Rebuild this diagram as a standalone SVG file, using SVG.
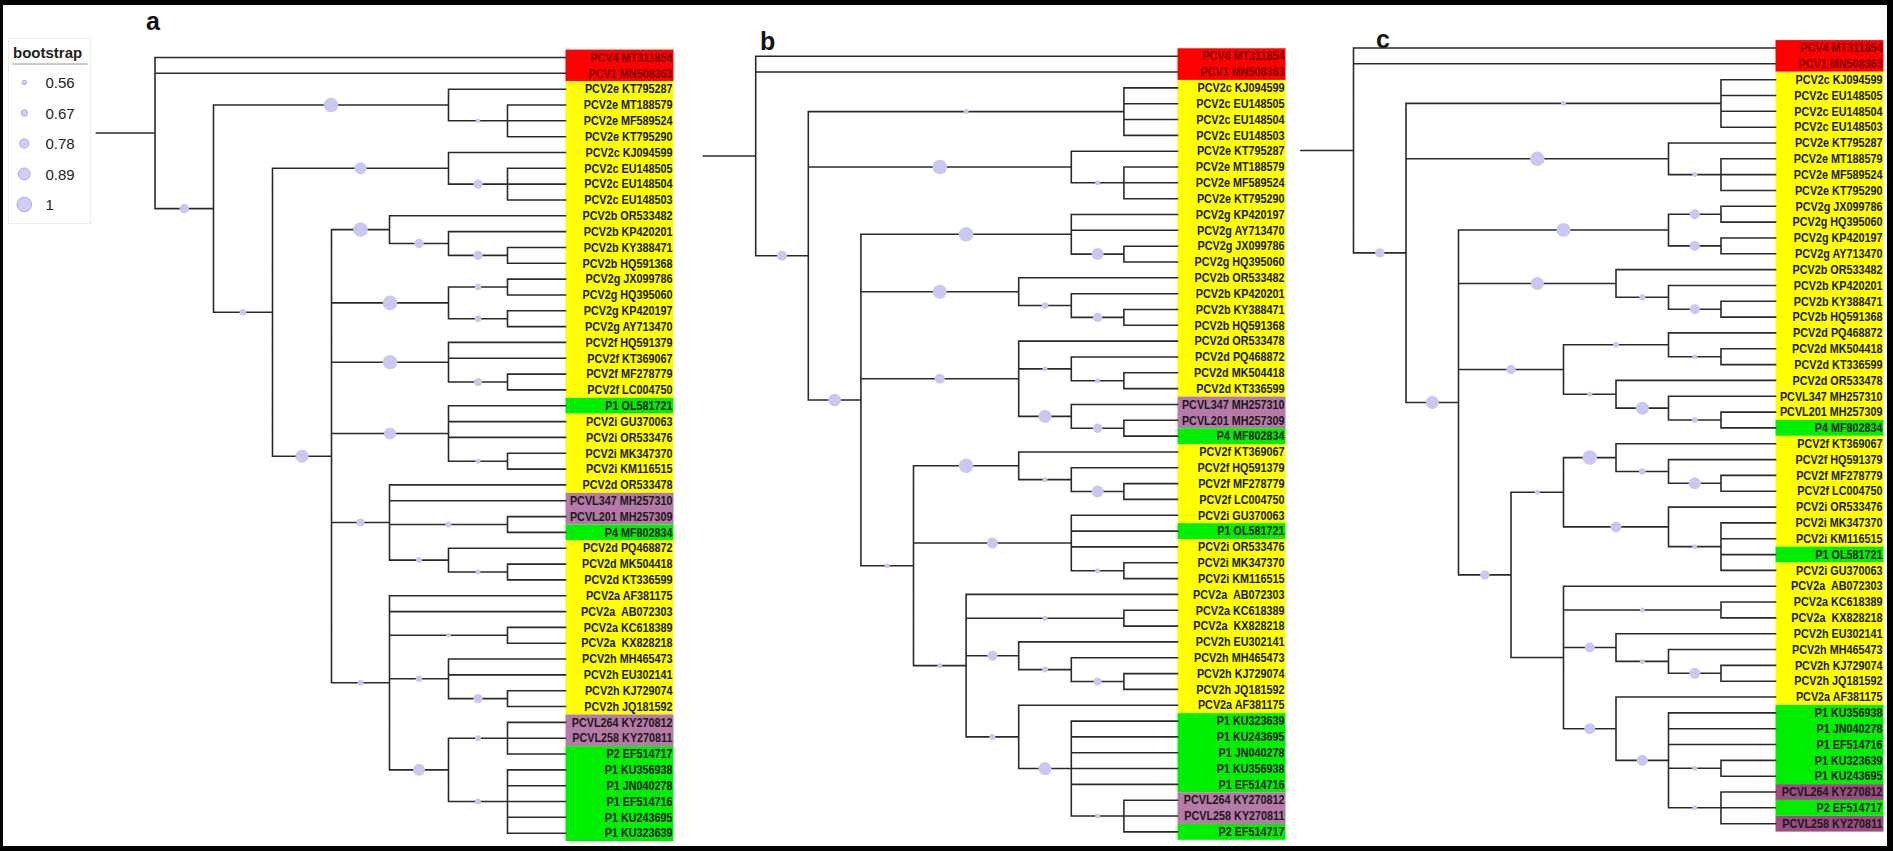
<svg xmlns="http://www.w3.org/2000/svg" width="1893" height="851" viewBox="0 0 1893 851">
<style>
.br{fill:none;stroke:#2a2a2a;stroke-width:1.6;stroke-linecap:square}
.bs circle{fill:#c8c8f2}
.lab text{font-family:"Liberation Sans",Arial,sans-serif;font-size:12px;font-weight:bold;text-anchor:end;fill:#1a1a1a;white-space:pre}
.lab text.rt{fill:#7a0000}
.pl{font-family:"Liberation Sans",Arial,sans-serif;font-size:25px;font-weight:bold;fill:#111}
.lg text{font-family:"Liberation Sans",Arial,sans-serif;font-size:15px;fill:#222}
.lg circle{fill:#cfcff5;stroke:#a3a3d0;stroke-width:0.8}
</style>
<rect x="0" y="0" width="1893" height="851" fill="#000"/>
<rect x="3" y="5" width="1884" height="841" fill="#fff"/>

<g id="legend" class="lg">
<rect x="8.5" y="38.5" width="82" height="185" fill="#fff" stroke="#ececec"/>
<text x="13" y="57.5" font-weight="bold" fill="#111">bootstrap</text>
<line x1="12.5" y1="64" x2="87.5" y2="64" stroke="#999" stroke-width="1.2"/>
<circle cx="24.3" cy="82.5" r="2.3"/><text x="45.5" y="88">0.56</text>
<circle cx="24.3" cy="113" r="3.3"/><text x="45.5" y="118.5">0.67</text>
<circle cx="24.3" cy="143.5" r="4.7"/><text x="45.5" y="149">0.78</text>
<circle cx="24.3" cy="174" r="6"/><text x="45.5" y="179.5">0.89</text>
<circle cx="24.3" cy="204.5" r="7.3"/><text x="45.5" y="210">1</text>
</g>

<text class="pl" x="146" y="30">a</text>
<text class="pl" x="760" y="50">b</text>
<text class="pl" x="1376" y="48">c</text>

<g id="boxes-a">
<rect x="565.5" y="49.6" width="108" height="31.7" fill="#ff0000"/>
<rect x="565.5" y="81.2" width="108" height="316.7" fill="#ffff00"/>
<rect x="565.5" y="397.85" width="108" height="15.82" fill="#00ee00"/>
<rect x="565.5" y="413.67" width="108" height="79.16" fill="#ffff00"/>
<rect x="565.5" y="492.83" width="108" height="31.66" fill="#b67aa8"/>
<rect x="565.5" y="524.49" width="108" height="15.83" fill="#00ee00"/>
<rect x="565.5" y="540.32" width="108" height="174.13" fill="#ffff00"/>
<rect x="565.5" y="714.45" width="108" height="31.66" fill="#b67aa8"/>
<rect x="565.5" y="746.11" width="108" height="94.98" fill="#00ee00"/>
</g>
<g id="boxes-b">
<rect x="1177.5" y="48.29" width="108" height="31.66" fill="#ff0000"/>
<rect x="1177.5" y="79.95" width="108" height="316.6" fill="#ffff00"/>
<rect x="1177.5" y="396.55" width="108" height="31.66" fill="#b67aa8"/>
<rect x="1177.5" y="428.21" width="108" height="15.83" fill="#00ee00"/>
<rect x="1177.5" y="444.04" width="108" height="79.15" fill="#ffff00"/>
<rect x="1177.5" y="523.19" width="108" height="15.83" fill="#00ee00"/>
<rect x="1177.5" y="539.02" width="108" height="174.13" fill="#ffff00"/>
<rect x="1177.5" y="713.15" width="108" height="79.15" fill="#00ee00"/>
<rect x="1177.5" y="792.3" width="108" height="31.66" fill="#b67aa8"/>
<rect x="1177.5" y="823.96" width="108" height="15.83" fill="#00ee00"/>
</g>
<g id="boxes-c">
<rect x="1775.5" y="40.09" width="108" height="31.66" fill="#ff0000"/>
<rect x="1775.5" y="71.75" width="108" height="348.25" fill="#ffff00"/>
<rect x="1775.5" y="420" width="108" height="15.84" fill="#00ee00"/>
<rect x="1775.5" y="435.84" width="108" height="110.81" fill="#ffff00"/>
<rect x="1775.5" y="546.65" width="108" height="15.83" fill="#00ee00"/>
<rect x="1775.5" y="562.48" width="108" height="142.47" fill="#ffff00"/>
<rect x="1775.5" y="704.95" width="108" height="79.15" fill="#00ee00"/>
<rect x="1775.5" y="784.1" width="108" height="15.83" fill="#9b4d82"/>
<rect x="1775.5" y="799.93" width="108" height="15.83" fill="#00ee00"/>
<rect x="1775.5" y="815.76" width="108" height="15.83" fill="#9b4d82"/>
</g>

<g id="connectors">
<path class="br" d="M96.5 133.05H155M155 57.5V208.6M155 57.5H565.5M155 73.3H565.5M155 208.6H213.5M213.5 105V312.25M213.5 105H448.5M448.5 89.2V120.8M448.5 89.2H565.5M448.5 120.8H507.5M507.5 105V136.7M507.5 105H565.5M507.5 120.8H565.5M507.5 136.7H565.5M213.5 312.25H272.5M272.5 168.3V456.2M272.5 168.3H448.5M448.5 152.5V184.1M448.5 152.5H565.5M448.5 184.1H507.5M507.5 168.3V200M507.5 168.3H565.5M507.5 184.1H565.5M507.5 200H565.5M272.5 456.2H331.5M331.5 229.65V682.8M331.5 229.65H389.5M389.5 215.8V243.5M389.5 215.8H565.5M389.5 243.5H448.5M448.5 231.6V255.4M448.5 231.6H565.5M448.5 255.4H507.5M507.5 247.5V263.3M507.5 247.5H565.5M507.5 263.3H565.5M331.5 302.85H448.5M448.5 287V318.7M448.5 287H507.5M507.5 279.1V295M507.5 279.1H565.5M507.5 295H565.5M448.5 318.7H507.5M507.5 310.8V326.6M507.5 310.8H565.5M507.5 326.6H565.5M331.5 362.2H448.5M448.5 342.4V382M448.5 342.4H565.5M448.5 358.3H565.5M448.5 382H507.5M507.5 374.1V389.9M507.5 374.1H565.5M507.5 389.9H565.5M331.5 433.5H448.5M448.5 405.8V461.2M448.5 405.8H565.5M448.5 421.6H565.5M448.5 437.4H565.5M448.5 461.2H507.5M507.5 453.3V469.1M507.5 453.3H565.5M507.5 469.1H565.5M331.5 522.5H389.5M389.5 484.9V560.1M389.5 484.9H565.5M389.5 500.7H565.5M389.5 524.5H507.5M507.5 516.6V532.4M507.5 516.6H565.5M507.5 532.4H565.5M389.5 560.1H448.5M448.5 548.2V572M448.5 548.2H565.5M448.5 572H507.5M507.5 564.1V579.9M507.5 564.1H565.5M507.5 579.9H565.5M331.5 682.8H389.5M389.5 595.7V769.85M389.5 595.7H565.5M389.5 611.6H565.5M389.5 635.3H507.5M507.5 627.4V643.2M507.5 627.4H565.5M507.5 643.2H565.5M389.5 678.8H448.5M448.5 659V698.6M448.5 659H565.5M448.5 674.9H565.5M448.5 698.6H507.5M507.5 690.7V706.5M507.5 690.7H565.5M507.5 706.5H565.5M389.5 769.85H448.5M448.5 738.2V801.5M448.5 738.2H507.5M507.5 722.4V754M507.5 722.4H565.5M507.5 738.2H565.5M507.5 754H565.5M448.5 801.5H507.5M507.5 769.85V833.2M507.5 769.85H565.5M507.5 785.7H565.5M507.5 801.5H565.5M507.5 817.3H565.5M507.5 833.2H565.5"/>
<path class="br" d="M703.5 156H755.7M755.7 56.2V255.8M755.7 56.2H1177.5M755.7 72H1177.5M755.7 255.8H808.3M808.3 111.6V400M808.3 111.6H1123.9M1123.9 87.9V135.4M1123.9 87.9H1177.5M1123.9 103.7H1177.5M1123.9 119.5H1177.5M1123.9 135.4H1177.5M808.3 167H1071.3M1071.3 151.2V182.8M1071.3 151.2H1177.5M1071.3 182.8H1123.9M1123.9 167V198.7M1123.9 167H1177.5M1123.9 182.8H1177.5M1123.9 198.7H1177.5M808.3 400H860.9M860.9 234.3V565.7M860.9 234.3H1071.3M1071.3 214.5V254.1M1071.3 214.5H1177.5M1071.3 230.3H1177.5M1071.3 254.1H1123.9M1123.9 246.2V262M1123.9 246.2H1177.5M1123.9 262H1177.5M860.9 291.7H1018.7M1018.7 277.8V305.5M1018.7 277.8H1177.5M1018.7 305.5H1071.3M1071.3 293.7V317.4M1071.3 293.7H1177.5M1071.3 317.4H1123.9M1123.9 309.5V325.3M1123.9 309.5H1177.5M1123.9 325.3H1177.5M860.9 378.7H1018.7M1018.7 341.1V416.35M1018.7 341.1H1177.5M1018.7 368.85H1071.3M1071.3 357V380.7M1071.3 357H1177.5M1071.3 380.7H1123.9M1123.9 372.8V388.6M1123.9 372.8H1177.5M1123.9 388.6H1177.5M1018.7 416.35H1071.3M1071.3 404.5V428.2M1071.3 404.5H1177.5M1071.3 428.2H1123.9M1123.9 420.3V436.1M1123.9 420.3H1177.5M1123.9 436.1H1177.5M860.9 565.7H913.5M913.5 465.8V665.65M913.5 465.8H1018.7M1018.7 452V479.65M1018.7 452H1177.5M1018.7 479.65H1071.3M1071.3 467.8V491.5M1071.3 467.8H1177.5M1071.3 491.5H1123.9M1123.9 483.6V499.4M1123.9 483.6H1177.5M1123.9 499.4H1177.5M913.5 543H1071.3M1071.3 515.3V570.7M1071.3 515.3H1177.5M1071.3 531.1H1177.5M1071.3 546.9H1177.5M1071.3 570.7H1123.9M1123.9 562.8V578.6M1123.9 562.8H1177.5M1123.9 578.6H1177.5M913.5 665.65H966.1M966.1 594.4V736.9M966.1 594.4H1177.5M966.1 618.2H1123.9M1123.9 610.25V626.1M1123.9 610.25H1177.5M1123.9 626.1H1177.5M966.1 655.75H1018.7M1018.7 641.9V669.6M1018.7 641.9H1177.5M1018.7 669.6H1071.3M1071.3 657.7V681.5M1071.3 657.7H1177.5M1071.3 681.5H1123.9M1123.9 673.6V689.4M1123.9 673.6H1177.5M1123.9 689.4H1177.5M966.1 736.9H1018.7M1018.7 705.2V768.55M1018.7 705.2H1177.5M1018.7 768.55H1071.3M1071.3 721.1V816M1071.3 721.1H1177.5M1071.3 736.9H1177.5M1071.3 752.7H1177.5M1071.3 768.55H1177.5M1071.3 784.4H1177.5M1071.3 816H1123.9M1123.9 800.2V831.9M1123.9 800.2H1177.5M1123.9 816H1177.5M1123.9 831.9H1177.5"/>
<path class="br" d="M1301 150.45H1353.5M1353.5 48V252.9M1353.5 48H1775.5M1353.5 63.8H1775.5M1353.5 252.9H1406M1406 103.4V402.45M1406 103.4H1721M1721 79.7V127.2M1721 79.7H1775.5M1721 95.5H1775.5M1721 111.3H1775.5M1721 127.2H1775.5M1406 158.8H1668.5M1668.5 143V174.6M1668.5 143H1775.5M1668.5 174.6H1721M1721 158.8V190.5M1721 158.8H1775.5M1721 174.6H1775.5M1721 190.5H1775.5M1406 402.45H1458.5M1458.5 230.05V574.85M1458.5 230.05H1668.5M1668.5 214.2V245.9M1668.5 214.2H1721M1721 206.3V222.1M1721 206.3H1775.5M1721 222.1H1775.5M1668.5 245.9H1721M1721 238V253.8M1721 238H1775.5M1721 253.8H1775.5M1458.5 283.45H1616M1616 269.6V297.3M1616 269.6H1775.5M1616 297.3H1668.5M1668.5 285.45V309.2M1668.5 285.45H1775.5M1668.5 309.2H1721M1721 301.3V317.1M1721 301.3H1775.5M1721 317.1H1775.5M1458.5 369.55H1563.5M1563.5 344.8V394.3M1563.5 344.8H1668.5M1668.5 332.9V356.7M1668.5 332.9H1775.5M1668.5 356.7H1721M1721 348.8V364.6M1721 348.8H1775.5M1721 364.6H1775.5M1563.5 394.3H1616M1616 380.4V408.15M1616 380.4H1775.5M1616 408.15H1668.5M1668.5 396.3V420M1668.5 396.3H1775.5M1668.5 420H1721M1721 412.1V427.9M1721 412.1H1775.5M1721 427.9H1775.5M1458.5 574.85H1511M1511 492.25V657.45M1511 492.25H1563.5M1563.5 457.6V526.9M1563.5 457.6H1616M1616 443.75V471.45M1616 443.75H1775.5M1616 471.45H1668.5M1668.5 459.6V483.3M1668.5 459.6H1775.5M1668.5 483.3H1721M1721 475.4V491.2M1721 475.4H1775.5M1721 491.2H1775.5M1563.5 526.9H1668.5M1668.5 507.1V546.65M1668.5 507.1H1775.5M1668.5 546.65H1721M1721 522.9V570.4M1721 522.9H1775.5M1721 538.7H1775.5M1721 554.6H1775.5M1721 570.4H1775.5M1511 657.45H1563.5M1563.5 586.2V728.7M1563.5 586.2H1775.5M1563.5 610H1721M1721 602.05V617.9M1721 602.05H1775.5M1721 617.9H1775.5M1563.5 647.55H1616M1616 633.7V661.4M1616 633.7H1775.5M1616 661.4H1668.5M1668.5 649.5V673.3M1668.5 649.5H1775.5M1668.5 673.3H1721M1721 665.4V681.2M1721 665.4H1775.5M1721 681.2H1775.5M1563.5 728.7H1616M1616 697V760.35M1616 697H1775.5M1616 760.35H1668.5M1668.5 712.9V807.8M1668.5 712.9H1775.5M1668.5 728.7H1775.5M1668.5 744.5H1775.5M1668.5 768.3H1721M1721 760.35V776.2M1721 760.35H1775.5M1721 776.2H1775.5M1668.5 807.8H1721M1721 792V823.7M1721 792H1775.5M1721 807.8H1775.5M1721 823.7H1775.5"/>
</g>

<g id="bootstrap-a" class="bs">
<circle cx="184.3" cy="208.6" r="4.7"/><circle cx="331" cy="105" r="7.3"/><circle cx="478" cy="120.8" r="2.3"/><circle cx="243" cy="312.25" r="3.3"/><circle cx="360.5" cy="168.3" r="6"/><circle cx="478" cy="184.1" r="4.7"/><circle cx="302" cy="456.2" r="6.5"/><circle cx="360.5" cy="229.65" r="7.3"/><circle cx="419" cy="243.5" r="4.7"/><circle cx="478" cy="255.4" r="4.7"/><circle cx="390" cy="302.85" r="7.3"/><circle cx="478" cy="287" r="3.3"/><circle cx="478" cy="318.7" r="3.3"/><circle cx="390" cy="362.2" r="7.3"/><circle cx="478" cy="382" r="4"/><circle cx="390" cy="433.5" r="6"/><circle cx="478" cy="461.2" r="2.5"/><circle cx="360.5" cy="522.5" r="4"/><circle cx="448.5" cy="524.5" r="3"/><circle cx="419" cy="560.1" r="3"/><circle cx="478" cy="572" r="2.5"/><circle cx="360.5" cy="682.8" r="3"/><circle cx="448.5" cy="635.3" r="2.3"/><circle cx="419" cy="678.8" r="3.3"/><circle cx="478" cy="698.6" r="4.7"/><circle cx="419" cy="769.85" r="6"/><circle cx="478" cy="738.2" r="3"/><circle cx="478" cy="801.5" r="3"/>
</g>
<g id="bootstrap-b" class="bs">
<circle cx="782" cy="255.8" r="5"/><circle cx="966.1" cy="111.6" r="2.5"/><circle cx="939.8" cy="167" r="7.3"/><circle cx="1097.6" cy="182.8" r="2.5"/><circle cx="834.6" cy="400" r="6.3"/><circle cx="966.1" cy="234.3" r="7.3"/><circle cx="1097.6" cy="254.1" r="6"/><circle cx="939.8" cy="291.7" r="7"/><circle cx="1045" cy="305.5" r="3.3"/><circle cx="1097.6" cy="317.4" r="4.7"/><circle cx="939.8" cy="378.7" r="5"/><circle cx="1045" cy="368.85" r="2.5"/><circle cx="1097.6" cy="380.7" r="2.5"/><circle cx="1045" cy="416.35" r="6.5"/><circle cx="1097.6" cy="428.2" r="4.7"/><circle cx="887.2" cy="565.7" r="2.5"/><circle cx="966.1" cy="465.8" r="7.3"/><circle cx="1045" cy="479.65" r="2.5"/><circle cx="1097.6" cy="491.5" r="6"/><circle cx="992.4" cy="543" r="5.5"/><circle cx="1097.6" cy="570.7" r="2.5"/><circle cx="939.8" cy="665.65" r="2.5"/><circle cx="1045" cy="618.2" r="2.5"/><circle cx="992.4" cy="655.75" r="5"/><circle cx="1045" cy="669.6" r="3"/><circle cx="1097.6" cy="681.5" r="4"/><circle cx="992.4" cy="736.9" r="3"/><circle cx="1045" cy="768.55" r="6.5"/><circle cx="1097.6" cy="816" r="2.5"/>
</g>
<g id="bootstrap-c" class="bs">
<circle cx="1379.8" cy="252.9" r="4.7"/><circle cx="1563.5" cy="103.4" r="2.5"/><circle cx="1537.3" cy="158.8" r="7.3"/><circle cx="1694.8" cy="174.6" r="2.5"/><circle cx="1432.3" cy="402.45" r="6.5"/><circle cx="1563.5" cy="230.05" r="7"/><circle cx="1694.8" cy="214.2" r="5"/><circle cx="1694.8" cy="245.9" r="5"/><circle cx="1537.3" cy="283.45" r="6.5"/><circle cx="1642.3" cy="297.3" r="3"/><circle cx="1694.8" cy="309.2" r="5"/><circle cx="1511" cy="369.55" r="4.7"/><circle cx="1616" cy="344.8" r="3"/><circle cx="1694.8" cy="356.7" r="2.5"/><circle cx="1589.8" cy="394.3" r="2.5"/><circle cx="1642.3" cy="408.15" r="6.5"/><circle cx="1694.8" cy="420" r="3"/><circle cx="1484.8" cy="574.85" r="4.7"/><circle cx="1537.3" cy="492.25" r="2.5"/><circle cx="1589.8" cy="457.6" r="7.3"/><circle cx="1642.3" cy="471.45" r="3.3"/><circle cx="1694.8" cy="483.3" r="6"/><circle cx="1616" cy="526.9" r="5.5"/><circle cx="1694.8" cy="546.65" r="2.5"/><circle cx="1642.3" cy="610" r="2.5"/><circle cx="1589.8" cy="647.55" r="5"/><circle cx="1642.3" cy="661.4" r="2.5"/><circle cx="1694.8" cy="673.3" r="5.5"/><circle cx="1589.8" cy="728.7" r="5.5"/><circle cx="1642.3" cy="760.35" r="5.5"/><circle cx="1694.8" cy="768.3" r="2.5"/><circle cx="1694.8" cy="807.8" r="2.5"/>
</g>

<g id="labels-a" class="lab" transform="translate(672.5 0) scale(0.9 1)">
<g id="a-n1"><text class="rt" y="61.8">PCV4 MT311854</text></g>
<g id="a-n2"><text class="rt" y="77.6">PCV1 MN508363</text></g>
<g id="a-n3"><text y="93.5">PCV2e KT795287</text></g>
<g id="a-n4"><text y="109.3">PCV2e MT188579</text></g>
<g id="a-n5"><text y="125.1">PCV2e MF589524</text></g>
<g id="a-n6"><text y="141">PCV2e KT795290</text></g>
<g id="a-n7"><text y="156.8">PCV2c KJ094599</text></g>
<g id="a-n8"><text y="172.6">PCV2c EU148505</text></g>
<g id="a-n9"><text y="188.4">PCV2c EU148504</text></g>
<g id="a-n10"><text y="204.3">PCV2c EU148503</text></g>
<g id="a-n11"><text y="220.1">PCV2b OR533482</text></g>
<g id="a-n12"><text y="235.9">PCV2b KP420201</text></g>
<g id="a-n13"><text y="251.8">PCV2b KY388471</text></g>
<g id="a-n14"><text y="267.6">PCV2b HQ591368</text></g>
<g id="a-n15"><text y="283.4">PCV2g JX099786</text></g>
<g id="a-n16"><text y="299.3">PCV2g HQ395060</text></g>
<g id="a-n17"><text y="315.1">PCV2g KP420197</text></g>
<g id="a-n18"><text y="330.9">PCV2g AY713470</text></g>
<g id="a-n19"><text y="346.7">PCV2f HQ591379</text></g>
<g id="a-n20"><text y="362.6">PCV2f KT369067</text></g>
<g id="a-n21"><text y="378.4">PCV2f MF278779</text></g>
<g id="a-n22"><text y="394.2">PCV2f LC004750</text></g>
<g id="a-n23"><text y="410.1">P1 OL581721</text></g>
<g id="a-n24"><text y="425.9">PCV2i GU370063</text></g>
<g id="a-n25"><text y="441.7">PCV2i OR533476</text></g>
<g id="a-n26"><text y="457.6">PCV2i MK347370</text></g>
<g id="a-n27"><text y="473.4">PCV2i KM116515</text></g>
<g id="a-n28"><text y="489.2">PCV2d OR533478</text></g>
<g id="a-n29"><text y="505">PCVL347 MH257310</text></g>
<g id="a-n30"><text y="520.9">PCVL201 MH257309</text></g>
<g id="a-n31"><text y="536.7">P4 MF802834</text></g>
<g id="a-n32"><text y="552.5">PCV2d PQ468872</text></g>
<g id="a-n33"><text y="568.4">PCV2d MK504418</text></g>
<g id="a-n34"><text y="584.2">PCV2d KT336599</text></g>
<g id="a-n35"><text y="600">PCV2a AF381175</text></g>
<g id="a-n36"><text y="615.9" xml:space="preserve">PCV2a  AB072303</text></g>
<g id="a-n37"><text y="631.7">PCV2a KC618389</text></g>
<g id="a-n38"><text y="647.5" xml:space="preserve">PCV2a  KX828218</text></g>
<g id="a-n39"><text y="663.3">PCV2h MH465473</text></g>
<g id="a-n40"><text y="679.2">PCV2h EU302141</text></g>
<g id="a-n41"><text y="695">PCV2h KJ729074</text></g>
<g id="a-n42"><text y="710.8">PCV2h JQ181592</text></g>
<g id="a-n43"><text y="726.7">PCVL264 KY270812</text></g>
<g id="a-n44"><text y="742.5">PCVL258 KY270811</text></g>
<g id="a-n45"><text y="758.3">P2 EF514717</text></g>
<g id="a-n46"><text y="774.2">P1 KU356938</text></g>
<g id="a-n47"><text y="790">P1 JN040278</text></g>
<g id="a-n48"><text y="805.8">P1 EF514716</text></g>
<g id="a-n49"><text y="821.6">P1 KU243695</text></g>
<g id="a-n50"><text y="837.5">P1 KU323639</text></g>
</g>

<g id="labels-b" class="lab" transform="translate(1284.5 0) scale(0.9 1)">
<g id="b-n1"><text class="rt" y="60.5">PCV4 MT311854</text></g>
<g id="b-n2"><text class="rt" y="76.3">PCV1 MN508363</text></g>
<g id="b-n3"><text y="92.2">PCV2c KJ094599</text></g>
<g id="b-n4"><text y="108">PCV2c EU148505</text></g>
<g id="b-n5"><text y="123.8">PCV2c EU148504</text></g>
<g id="b-n6"><text y="139.7">PCV2c EU148503</text></g>
<g id="b-n7"><text y="155.5">PCV2e KT795287</text></g>
<g id="b-n8"><text y="171.3">PCV2e MT188579</text></g>
<g id="b-n9"><text y="187.1">PCV2e MF589524</text></g>
<g id="b-n10"><text y="203">PCV2e KT795290</text></g>
<g id="b-n11"><text y="218.8">PCV2g KP420197</text></g>
<g id="b-n12"><text y="234.6">PCV2g AY713470</text></g>
<g id="b-n13"><text y="250.5">PCV2g JX099786</text></g>
<g id="b-n14"><text y="266.3">PCV2g HQ395060</text></g>
<g id="b-n15"><text y="282.1">PCV2b OR533482</text></g>
<g id="b-n16"><text y="298">PCV2b KP420201</text></g>
<g id="b-n17"><text y="313.8">PCV2b KY388471</text></g>
<g id="b-n18"><text y="329.6">PCV2b HQ591368</text></g>
<g id="b-n19"><text y="345.4">PCV2d OR533478</text></g>
<g id="b-n20"><text y="361.3">PCV2d PQ468872</text></g>
<g id="b-n21"><text y="377.1">PCV2d MK504418</text></g>
<g id="b-n22"><text y="392.9">PCV2d KT336599</text></g>
<g id="b-n23"><text y="408.8">PCVL347 MH257310</text></g>
<g id="b-n24"><text y="424.6">PCVL201 MH257309</text></g>
<g id="b-n25"><text y="440.4">P4 MF802834</text></g>
<g id="b-n26"><text y="456.3">PCV2f KT369067</text></g>
<g id="b-n27"><text y="472.1">PCV2f HQ591379</text></g>
<g id="b-n28"><text y="487.9">PCV2f MF278779</text></g>
<g id="b-n29"><text y="503.7">PCV2f LC004750</text></g>
<g id="b-n30"><text y="519.6">PCV2i GU370063</text></g>
<g id="b-n31"><text y="535.4">P1 OL581721</text></g>
<g id="b-n32"><text y="551.2">PCV2i OR533476</text></g>
<g id="b-n33"><text y="567.1">PCV2i MK347370</text></g>
<g id="b-n34"><text y="582.9">PCV2i KM116515</text></g>
<g id="b-n35"><text y="598.7" xml:space="preserve">PCV2a  AB072303</text></g>
<g id="b-n36"><text y="614.6">PCV2a KC618389</text></g>
<g id="b-n37"><text y="630.4" xml:space="preserve">PCV2a  KX828218</text></g>
<g id="b-n38"><text y="646.2">PCV2h EU302141</text></g>
<g id="b-n39"><text y="662">PCV2h MH465473</text></g>
<g id="b-n40"><text y="677.9">PCV2h KJ729074</text></g>
<g id="b-n41"><text y="693.7">PCV2h JQ181592</text></g>
<g id="b-n42"><text y="709.5">PCV2a AF381175</text></g>
<g id="b-n43"><text y="725.4">P1 KU323639</text></g>
<g id="b-n44"><text y="741.2">P1 KU243695</text></g>
<g id="b-n45"><text y="757">P1 JN040278</text></g>
<g id="b-n46"><text y="772.9">P1 KU356938</text></g>
<g id="b-n47"><text y="788.7">P1 EF514716</text></g>
<g id="b-n48"><text y="804.5">PCVL264 KY270812</text></g>
<g id="b-n49"><text y="820.3">PCVL258 KY270811</text></g>
<g id="b-n50"><text y="836.2">P2 EF514717</text></g>
</g>

<g id="labels-c" class="lab" transform="translate(1882.5 0) scale(0.9 1)">
<g id="c-n1"><text class="rt" y="52.3">PCV4 MT311854</text></g>
<g id="c-n2"><text class="rt" y="68.1">PCV1 MN508363</text></g>
<g id="c-n3"><text y="84">PCV2c KJ094599</text></g>
<g id="c-n4"><text y="99.8">PCV2c EU148505</text></g>
<g id="c-n5"><text y="115.6">PCV2c EU148504</text></g>
<g id="c-n6"><text y="131.5">PCV2c EU148503</text></g>
<g id="c-n7"><text y="147.3">PCV2e KT795287</text></g>
<g id="c-n8"><text y="163.1">PCV2e MT188579</text></g>
<g id="c-n9"><text y="178.9">PCV2e MF589524</text></g>
<g id="c-n10"><text y="194.8">PCV2e KT795290</text></g>
<g id="c-n11"><text y="210.6">PCV2g JX099786</text></g>
<g id="c-n12"><text y="226.4">PCV2g HQ395060</text></g>
<g id="c-n13"><text y="242.3">PCV2g KP420197</text></g>
<g id="c-n14"><text y="258.1">PCV2g AY713470</text></g>
<g id="c-n15"><text y="273.9">PCV2b OR533482</text></g>
<g id="c-n16"><text y="289.8">PCV2b KP420201</text></g>
<g id="c-n17"><text y="305.6">PCV2b KY388471</text></g>
<g id="c-n18"><text y="321.4">PCV2b HQ591368</text></g>
<g id="c-n19"><text y="337.2">PCV2d PQ468872</text></g>
<g id="c-n20"><text y="353.1">PCV2d MK504418</text></g>
<g id="c-n21"><text y="368.9">PCV2d KT336599</text></g>
<g id="c-n22"><text y="384.7">PCV2d OR533478</text></g>
<g id="c-n23"><text y="400.6">PCVL347 MH257310</text></g>
<g id="c-n24"><text y="416.4">PCVL201 MH257309</text></g>
<g id="c-n25"><text y="432.2">P4 MF802834</text></g>
<g id="c-n26"><text y="448.1">PCV2f KT369067</text></g>
<g id="c-n27"><text y="463.9">PCV2f HQ591379</text></g>
<g id="c-n28"><text y="479.7">PCV2f MF278779</text></g>
<g id="c-n29"><text y="495.5">PCV2f LC004750</text></g>
<g id="c-n30"><text y="511.4">PCV2i OR533476</text></g>
<g id="c-n31"><text y="527.2">PCV2i MK347370</text></g>
<g id="c-n32"><text y="543">PCV2i KM116515</text></g>
<g id="c-n33"><text y="558.9">P1 OL581721</text></g>
<g id="c-n34"><text y="574.7">PCV2i GU370063</text></g>
<g id="c-n35"><text y="590.5" xml:space="preserve">PCV2a  AB072303</text></g>
<g id="c-n36"><text y="606.4">PCV2a KC618389</text></g>
<g id="c-n37"><text y="622.2" xml:space="preserve">PCV2a  KX828218</text></g>
<g id="c-n38"><text y="638">PCV2h EU302141</text></g>
<g id="c-n39"><text y="653.8">PCV2h MH465473</text></g>
<g id="c-n40"><text y="669.7">PCV2h KJ729074</text></g>
<g id="c-n41"><text y="685.5">PCV2h JQ181592</text></g>
<g id="c-n42"><text y="701.3">PCV2a AF381175</text></g>
<g id="c-n43"><text y="717.2">P1 KU356938</text></g>
<g id="c-n44"><text y="733">P1 JN040278</text></g>
<g id="c-n45"><text y="748.8">P1 EF514716</text></g>
<g id="c-n46"><text y="764.7">P1 KU323639</text></g>
<g id="c-n47"><text y="780.5">P1 KU243695</text></g>
<g id="c-n48"><text y="796.3">PCVL264 KY270812</text></g>
<g id="c-n49"><text y="812.1">P2 EF514717</text></g>
<g id="c-n50"><text y="828">PCVL258 KY270811</text></g>
</g>
</svg>
